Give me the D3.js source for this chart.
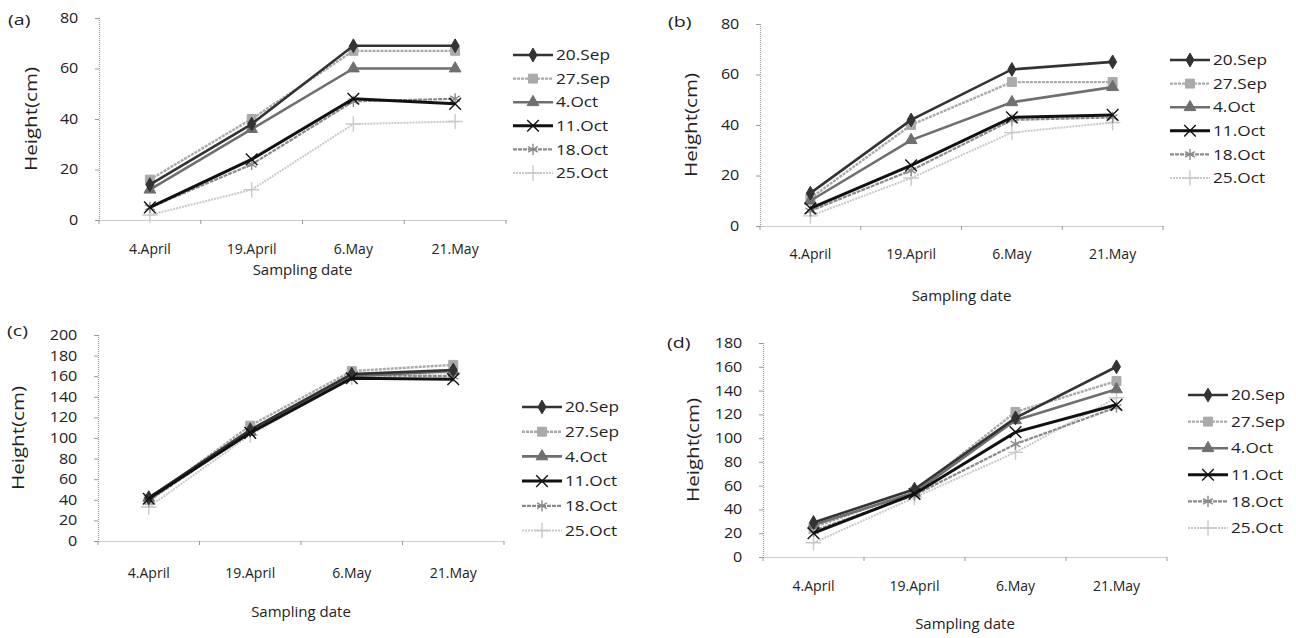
<!DOCTYPE html>
<html>
<head>
<meta charset="utf-8">
<title>Height by sowing date</title>
<script src="https://cdn.jsdelivr.net/npm/d3@7"></script>
<style>
  body { margin: 0; background: #fff; }
  text { font-family: "Open Sans", Lato, sans-serif; fill: #222; }
</style>
</head>
<body>
<script>
// sampling dates (x categories) and sowing dates (series)
var dates = ["4.April", "19.April", "6.May", "21.May"];
var sowings = ["20.Sep", "27.Sep", "4.Oct", "11.Oct", "18.Oct", "25.Oct"];

// height (cm) per sowing date, one row per series, one column per sampling date
var panelA = [[14, 38, 69, 69], [16, 40, 67, 67], [12, 36, 60, 60], [5, 24, 48, 46], [5, 22, 47, 48], [2, 12, 38, 39]];
var panelB = [[13, 42, 62, 65], [11, 40, 57, 57], [10, 34, 49, 55], [7, 24, 43, 44], [6, 22, 42, 43], [4, 19, 37, 41]];
var panelC = [[42, 108, 162, 166], [40, 112, 165, 171], [42, 106, 160, 165], [41, 105, 158, 157], [39, 106, 161, 160], [33, 103, 159, 163]];
var panelD = [[29, 57, 117, 160], [25, 55, 122, 148], [27, 54, 115, 141], [20, 53, 105, 128], [22, 52, 95, 126], [12, 50, 88, 134]];

var yTicksA = [0, 20, 40, 60, 80];
var yTicksC = [0, 20, 40, 60, 80, 100, 120, 140, 160, 180, 200];
var yTicksD = [0, 20, 40, 60, 80, 100, 120, 140, 160, 180];

var colors = ["#333", "#aaa", "#6f6f6f", "#111", "#8a8a8a", "#c9c9c9"];
var widths = [2.6, 2.4, 2.6, 3, 2.2, 2];
var dashes = [null, "3,1", null, null, "4,1", "2,1"];
var shapes = [d3.symbolDiamond, d3.symbolSquare, d3.symbolTriangle, d3.symbolTimes, d3.symbolAsterisk, d3.symbolPlus];
var sizes = [55, 80, 60, 90, 90, 80];
var filled = [true, true, true, false, false, false];

var svg = d3.select("body").append("svg").attr("width", 1296).attr("height", 638);

var panels = [
  {tag: "(a)", data: panelA, ticks: yTicksA, x0: 99, x1: 506, yt: 18, yb: 220, leg: [513, 55, 23.6], tagPos: [8, 20], yl: 31, xl: 253, xt: 275},
  {tag: "(b)", data: panelB, ticks: yTicksA, x0: 760, x1: 1163, yt: 24, yb: 226, leg: [1170, 60, 23.6], tagPos: [668, 22], yl: 691, xl: 258, xt: 301},
  {tag: "(c)", data: panelC, ticks: yTicksC, x0: 98, x1: 504, yt: 335, yb: 541, leg: [522, 407, 24.7], tagPos: [7, 331], yl: 18, xl: 577, xt: 617},
  {tag: "(d)", data: panelD, ticks: yTicksD, x0: 763, x1: 1167, yt: 343, yb: 557, leg: [1188, 395, 26.6], tagPos: [667, 343], yl: 693, xl: 590, xt: 629}
];

function marker(s) {
  return d3.symbol().type(shapes[s]).size(sizes[s]);
}

panels.forEach(function (p) {
  var x = d3.scaleBand().domain(dates).range([p.x0, p.x1]);
  var y = d3.scaleLinear().domain([0, d3.max(p.ticks)]).range([p.yb, p.yt]);
  var g = svg.append("g");

  // y axis
  var ya = g.append("g").attr("transform", "translate(" + p.x0 + ",0)")
    .call(d3.axisLeft(y).tickValues(p.ticks).tickSize(4).tickPadding(14));
  // x axis, ticks sit on band boundaries
  var xa = g.append("g").attr("transform", "translate(0," + p.yb + ")")
    .call(d3.axisBottom(x).tickSize(0).tickPadding(p.xl - p.yb - 9));
  [ya, xa].forEach(function (a) {
    a.select(".domain").attr("stroke", "#999").attr("stroke-dasharray", "1,1").attr("stroke-width", 1.2);
    a.selectAll(".tick line").attr("stroke", "#999");
    a.selectAll("text").style("font-size", "14px").attr("fill", "#222");
  });
  // the original type is a little wide
  ya.selectAll("text").attr("transform", "scale(1.15,1)");
  g.selectAll(".xtick").data(d3.range(dates.length + 1)).enter().append("line")
    .attr("x1", function (i) { return p.x0 + i * x.bandwidth(); })
    .attr("x2", function (i) { return p.x0 + i * x.bandwidth(); })
    .attr("y1", p.yb).attr("y2", p.yb + 4).attr("stroke", "#999");

  var line = d3.line()
    .x(function (d, i) { return x(dates[i]) + x.bandwidth() / 2; })
    .y(function (d) { return y(d); });

  // series drawn light first, dark last
  var order = [5, 4, 1, 2, 0, 3];
  order.forEach(function (s) {
    g.append("path").datum(p.data[s]).attr("d", line).attr("fill", "none")
      .attr("stroke", colors[s]).attr("stroke-width", widths[s])
      .attr("stroke-dasharray", dashes[s]);
    g.selectAll(".m" + s).data(p.data[s]).enter().append("path")
      .attr("d", marker(s))
      .attr("transform", function (d, i) {
        return "translate(" + (x(dates[i]) + x.bandwidth() / 2) + "," + y(d) + ")";
      })
      .attr("fill", filled[s] ? colors[s] : "none")
      .attr("stroke", colors[s]).attr("stroke-width", filled[s] ? 1 : 1.4);
  });

  // legend
  sowings.forEach(function (name, s) {
    var ly = p.leg[1] + s * p.leg[2];
    var lg = g.append("g");
    lg.append("line").attr("x1", p.leg[0]).attr("x2", p.leg[0] + 40).attr("y1", ly).attr("y2", ly)
      .attr("stroke", colors[s]).attr("stroke-width", widths[s]).attr("stroke-dasharray", dashes[s]);
    lg.append("path").attr("d", marker(s))
      .attr("transform", "translate(" + (p.leg[0] + 20) + "," + ly + ")")
      .attr("fill", filled[s] ? colors[s] : "none")
      .attr("stroke", colors[s]).attr("stroke-width", filled[s] ? 1 : 1.4);
    lg.append("text").attr("transform", "translate(" + (p.leg[0] + 43) + "," + ly + ") scale(1.15,1)")
      .attr("dy", "0.35em").style("font-size", "15px").text(name);
  });

  g.append("text").attr("transform", "translate(" + p.tagPos[0] + "," + p.tagPos[1] + ") scale(1.4,1)")
    .attr("dy", "0.35em").style("font-size", "14px").text(p.tag);
  g.append("text").attr("transform", "translate(" + p.yl + "," + ((p.yt + p.yb) / 2) + ") rotate(-90)")
    .attr("text-anchor", "middle").attr("dy", "0.35em").style("font-size", "17px")
    .attr("textLength", 104).attr("lengthAdjust", "spacingAndGlyphs").text("Height(cm)");
  g.append("text").attr("x", (p.x0 + p.x1) / 2).attr("y", p.xt).attr("text-anchor", "middle")
    .style("font-size", "15px").text("Sampling date");
});
</script>
</body>
</html>
